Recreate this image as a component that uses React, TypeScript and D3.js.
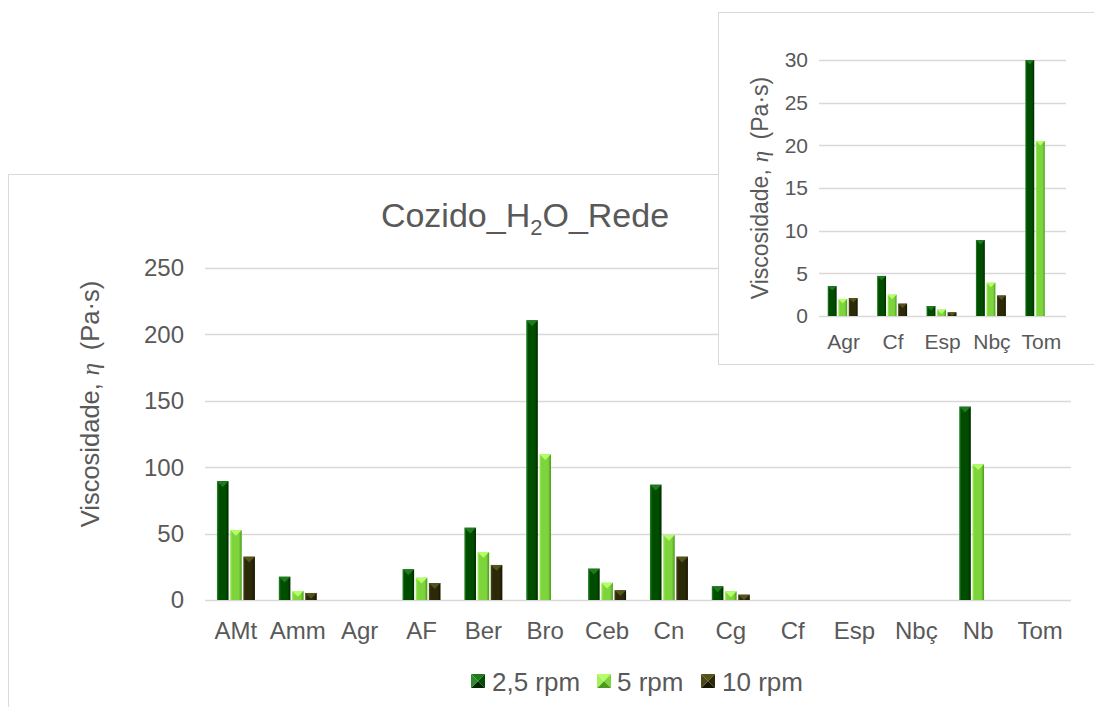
import React from 'react';
import * as d3 from 'd3';

// main chart data (null = no bar)
const categories = ['AMt', 'Amm', 'Agr', 'AF', 'Ber', 'Bro', 'Ceb', 'Cn', 'Cg', 'Cf', 'Esp', 'Nbç', 'Nb', 'Tom'];
const series = ['2,5 rpm', '5 rpm', '10 rpm'];
const rpm25 = [89.5, 17.5, null, 23.1, 54.4, 210.6, 23.6, 86.8, 10.3, null, null, null, 145.6, null];
const rpm5 = [52.7, 6.8, null, 16.8, 36.1, 109.7, 13.0, 49.0, 6.5, null, null, null, 102.2, null];
const rpm10 = [32.6, 5.3, null, 12.8, 26.4, null, 7.3, 32.6, 4.0, null, null, null, null, null];
const yTicks = [0, 50, 100, 150, 200, 250];

// inset data
const insetCategories = ['Agr', 'Cf', 'Esp', 'Nbç', 'Tom'];
const inset25 = [3.5, 4.7, 1.17, 8.9, 30];
const inset5 = [2.0, 2.5, 0.75, 3.9, 20.5];
const inset10 = [2.1, 1.45, 0.43, 2.4, null];
const insetTicks = [0, 5, 10, 15, 20, 25, 30];

const colors = [
  { main: '#004d00', light: '#2d8a2d', dark: '#002800', top: '#1f7a1f' },
  { main: '#7ed43c', light: '#a6f060', dark: '#4a9a1c', top: '#b4ff66' },
  { main: '#2b2908', light: '#4a4818', dark: '#161500', top: '#55531c' },
];

const textColor = '#595959';
const gridColor = '#d9d9d9';
const font = 'Arial, "Liberation Sans", sans-serif';
const serif = "'Liberation Serif', 'Times New Roman', serif";

function Bars({ x, y, groups, offsets, idp }: any) {
  const [vals, cats] = groups;
  return (
    <g>
      {cats.map((c: string, ci: number) =>
        vals.map((arr: (number | null)[], si: number) => {
          const v = arr[ci];
          if (v == null) return null;
          const bx = x(c)! + x.bandwidth() / 2 + offsets(series[si])!;
          const w = offsets.bandwidth();
          const top = y(v);
          const h = y(0) - top;
          const t = Math.min(w / 2, h);
          return (
            <g key={c + si}>
              <rect x={bx} y={top} width={w} height={h} fill={`url(#${idp}${si})`} />
              <polygon
                points={`${bx},${top} ${bx + w},${top} ${bx + w / 2},${top + t}`}
                fill={colors[si].top}
              />
            </g>
          );
        })
      )}
    </g>
  );
}

function Grads({ idp }: { idp: string }) {
  return (
    <>
      {colors.map((c, i) => (
        <linearGradient key={i} id={`${idp}${i}`} x1="0" x2="1" y1="0" y2="0">
          <stop offset="0" stopColor={c.light} />
          <stop offset="0.18" stopColor={c.main} />
          <stop offset="0.75" stopColor={c.main} />
          <stop offset="1" stopColor={c.dark} />
        </linearGradient>
      ))}
    </>
  );
}

function LegendMarker({ x, y, s, c }: any) {
  const cx = x + s / 2;
  const cy = y + s / 2;
  return (
    <g>
      <polygon points={`${x},${y} ${x + s},${y} ${cx},${cy}`} fill={c.top} />
      <polygon points={`${x + s},${y} ${x + s},${y + s} ${cx},${cy}`} fill={c.main} />
      <polygon points={`${x},${y + s} ${x + s},${y + s} ${cx},${cy}`} fill={c.dark} />
      <polygon points={`${x},${y} ${x},${y + s} ${cx},${cy}`} fill={c.light} />
    </g>
  );
}

function AxisTitle({ x, y, size }: { x: number; y: number; size: number }) {
  return (
    <text transform={`translate(${x},${y}) rotate(-90)`} textAnchor="middle" fontSize={size} fill={textColor}>
      Viscosidade,
      <tspan dx={size * 0.3} fontFamily={serif} fontStyle="italic">η</tspan>
      <tspan dx={size * 0.5}>(Pa·s)</tspan>
    </text>
  );
}

export default function App() {
  // main chart scales
  const x = d3.scaleBand().domain(categories).range([205, 1071]);
  const y = d3.scaleLinear().domain([0, 250]).range([600, 268]);
  const x1 = d3.scaleBand().domain(series).range([-19, 19]).paddingInner(0.12);

  // inset scales
  const ix = d3.scaleBand().domain(insetCategories).range([819, 1066]);
  const iy = d3.scaleLinear().domain([0, 30]).range([316, 60]);
  const ix1 = d3.scaleBand().domain(series).range([-16, 14]).paddingInner(0.15);

  const legendItems = [
    { mx: 471, tx: 492 },
    { mx: 597, tx: 617 },
    { mx: 701, tx: 722 },
  ];

  return (
    <div style={{ position: 'absolute', left: 0, top: 0 }}>
      <svg width={1094} height={707} style={{ display: 'block', fontFamily: font }}>
        <defs>
          <Grads idp="gm" />
        </defs>
        <rect x={0} y={0} width={1094} height={707} fill="#fff" />

        {/* main chart */}
        <rect x={8.5} y={174.5} width={1200} height={700} fill="#fff" stroke={gridColor} />
        <text x={525} y={227} textAnchor="middle" fontSize={34} fill={textColor}>
          Cozido_H<tspan fontSize={22} dy={8}>2</tspan>
          <tspan dy={-8}>O_Rede</tspan>
        </text>
        {yTicks.map((t) => (
          <g key={t}>
            <line x1={205} x2={1071} y1={Math.round(y(t)) + 0.5} y2={Math.round(y(t)) + 0.5} stroke={gridColor} strokeWidth={1.5} />
            <text x={184} y={y(t)} dy="0.35em" textAnchor="end" fontSize={24} fill={textColor}>
              {t}
            </text>
          </g>
        ))}
        {categories.map((c) => (
          <text key={c} x={x(c)! + x.bandwidth() / 2} y={639} textAnchor="middle" fontSize={24} fill={textColor}>
            {c}
          </text>
        ))}
        <AxisTitle x={99} y={404} size={25.5} />
        <Bars x={x} y={y} groups={[[rpm25, rpm5, rpm10], categories]} offsets={x1} idp="gm" />

        {legendItems.map((l, i) => (
          <g key={i}>
            <LegendMarker x={l.mx} y={674} s={14} c={colors[i]} />
            <text x={l.tx} y={691} fontSize={26} fill={textColor}>
              {series[i]}
            </text>
          </g>
        ))}

        {/* inset chart */}
        <rect x={718.5} y={12.5} width={500} height={352} fill="#fff" stroke={gridColor} />
        {insetTicks.map((t) => (
          <g key={t}>
            <line x1={819} x2={1066} y1={Math.round(iy(t)) + 0.5} y2={Math.round(iy(t)) + 0.5} stroke={gridColor} strokeWidth={1.5} />
            <text x={808} y={iy(t)} dy="0.35em" textAnchor="end" fontSize={21} fill={textColor}>
              {t}
            </text>
          </g>
        ))}
        {insetCategories.map((c) => (
          <text key={c} x={ix(c)! + ix.bandwidth() / 2} y={349} textAnchor="middle" fontSize={21} fill={textColor}>
            {c}
          </text>
        ))}
        <AxisTitle x={768} y={188} size={23} />
        <Bars x={ix} y={iy} groups={[[inset25, inset5, inset10], insetCategories]} offsets={ix1} idp="gm" />
      </svg>
    </div>
  );
}
